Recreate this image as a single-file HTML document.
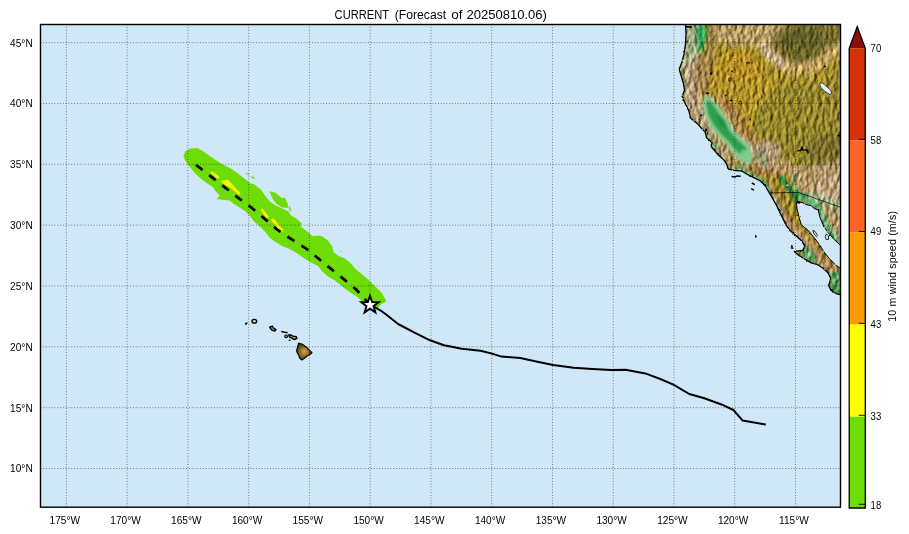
<!DOCTYPE html>
<html><head><meta charset="utf-8"><title>CURRENT forecast</title>
<style>
html,body{margin:0;padding:0;background:#fff;}
body{width:909px;height:534px;overflow:hidden;position:relative;font-family:"Liberation Sans",sans-serif;}
svg text{font-family:"Liberation Sans",sans-serif;fill:#000;}
svg g.t{opacity:0.999;}
</style></head><body>
<svg width="909" height="534" viewBox="0 0 909 534" style="display:block;position:absolute;left:0;top:0">
<defs>
<clipPath id="ax"><rect x="40.5" y="24.5" width="800" height="482.7"/></clipPath>
<clipPath id="landclip"><path d="M685.5 24.5 L686.0 34.0 L685.5 43.9 L684.1 53.7 L682.0 62.1 L679.2 69.2 L681.3 76.2 L683.4 83.2 L684.5 90.0 L682.0 97.0 L685.5 104.0 L689.0 111.1 L690.4 118.1 L697.5 123.7 L701.7 128.6 L705.2 132.1 L706.6 137.8 L712.2 142.7 L710.8 146.2 L715.7 151.8 L718.3 155.0 L723.2 159.2 L726.7 164.1 L728.1 169.0 L733.7 170.4 L742.1 171.2 L747.8 174.7 L754.8 178.2 L760.5 181.0 L765.4 186.0 L768.9 192.2 L772.5 198.2 L776.3 204.9 L779.5 211.6 L783.0 218.6 L786.2 225.4 L790.1 230.6 L795.7 235.5 L801.3 240.4 L804.9 246.1 L802.8 250.3 L794.3 251.4 L798.5 255.2 L804.2 258.7 L811.2 262.9 L816.8 264.3 L822.4 267.8 L828.0 272.8 L830.8 278.4 L828.7 285.4 L830.8 290.3 L836.5 293.8 L840.5 294.5 L840.5 268.5 L835.1 264.3 L829.4 258.7 L823.8 251.7 L819.6 244.7 L814.0 237.6 L808.4 230.6 L801.3 224.8 L799.2 217.6 L797.1 209.2 L796.4 202.1 L797.1 201.4 L802.8 202.8 L807.0 204.9 L811.2 205.6 L814.0 208.5 L818.2 209.9 L819.6 216.2 L821.7 221.8 L824.5 227.4 L828.0 232.5 L833.7 239.0 L840.5 245.4 L840.5 24.5Z"/></clipPath>
<filter id="blur3" x="-30%" y="-30%" width="160%" height="160%"><feGaussianBlur stdDeviation="2"/></filter>
<filter id="jag" x="-5%" y="-5%" width="110%" height="110%"><feTurbulence type="fractalNoise" baseFrequency="0.35" numOctaves="2" seed="4"/><feDisplacementMap in="SourceGraphic" scale="2.2" xChannelSelector="R" yChannelSelector="G"/></filter>
<filter id="blur1" x="-30%" y="-30%" width="160%" height="160%"><feGaussianBlur stdDeviation="1.1"/></filter>
<filter id="blur5" x="-30%" y="-30%" width="160%" height="160%"><feGaussianBlur stdDeviation="4"/></filter>
<filter id="relief" filterUnits="userSpaceOnUse" x="670" y="20" width="175" height="290" color-interpolation-filters="sRGB">
  <feTurbulence type="fractalNoise" baseFrequency="0.25 0.14" numOctaves="3" seed="11" result="n"/>
  <feDiffuseLighting in="n" surfaceScale="1.3" diffuseConstant="1" lighting-color="#ffffff" result="l"><feDistantLight azimuth="200" elevation="45"/></feDiffuseLighting>
  <feComposite in="SourceGraphic" in2="l" operator="arithmetic" k1="1.2" k2="0" k3="0.13" k4="-0.055"/>
</filter>
</defs>
<rect x="0" y="0" width="909" height="534" fill="#ffffff"/>
<rect x="40.5" y="24.5" width="800" height="482.7" fill="#cfe7f7"/>
<g clip-path="url(#ax)">
<g clip-path="url(#landclip)"><g filter="url(#relief)">
<rect x="670" y="20" width="180" height="290" fill="#b39a2a"/>
<g filter="url(#blur3)">
<ellipse cx="740" cy="95" rx="34" ry="34" fill="#c4a028" opacity="1" transform="rotate(0 740 95)"/>
<ellipse cx="800" cy="125" rx="46" ry="42" fill="#a3942c" opacity="1" transform="rotate(0 800 125)"/>
<ellipse cx="750" cy="34" rx="42" ry="13" fill="#cdb06c" opacity="1" transform="rotate(0 750 34)"/>
<ellipse cx="738" cy="66" rx="24" ry="16" fill="#cb9e24" opacity="1" transform="rotate(0 738 66)"/>
<ellipse cx="805" cy="46" rx="34" ry="24" fill="#7b722a" opacity="1" transform="rotate(0 805 46)"/>
<ellipse cx="802" cy="40" rx="22" ry="13" fill="#6e6a25" opacity="1" transform="rotate(0 802 40)"/>
<ellipse cx="836" cy="30" rx="10" ry="12" fill="#857828" opacity="1" transform="rotate(0 836 30)"/>
<path d="M764 44 Q770 60 790 68 Q812 72 826 58 Q834 48 844 48" fill="none" stroke="#dcb566" stroke-width="12" stroke-linecap="round"/>
<path d="M764 46 Q770 58 782 64" fill="none" stroke="#e6c8a4" stroke-width="7" stroke-linecap="round"/>
<ellipse cx="836" cy="100" rx="8" ry="30" fill="#a8902e" opacity="1" transform="rotate(0 836 100)"/>
<path d="M691.0 24.0 L691.0 50.0 L689.0 70.0 L691.0 90.0 L693.0 108.0 L699.0 120.0" fill="none" stroke="#d0b48c" stroke-width="16" stroke-linecap="round" stroke-linejoin="round" opacity="1"/>
<path d="M687.0 26.0 L686.5 50.0 L683.0 68.0 L685.0 95.0" fill="none" stroke="#a8c896" stroke-width="3.5" stroke-linecap="round" stroke-linejoin="round" opacity="0.8"/>
<polygon points="686.0,24.0 700.0,24.0 699.0,44.0 695.0,62.0 686.0,64.0" fill="#a5d3a0" opacity="0.45"/>
<polygon points="696.0,24.0 708.5,27.0 706.0,40.0 701.0,55.0 697.0,50.0 695.0,36.0" fill="#27b25f" opacity="1"/>
<path d="M712.0 24.0 L711.0 50.0 L708.0 75.0 L703.0 92.0" fill="none" stroke="#b38f48" stroke-width="8" stroke-linecap="round" stroke-linejoin="round" opacity="1"/>
<path d="M700.0 62.0 L698.0 86.0" fill="none" stroke="#b58f55" stroke-width="10" stroke-linecap="round" stroke-linejoin="round" opacity="1"/>
<path d="M722.0 98.0 L732.0 112.0 L742.0 128.0 L754.0 140.0 L760.0 156.0" fill="none" stroke="#c4944a" stroke-width="10" stroke-linecap="round" stroke-linejoin="round" opacity="1"/>
<path d="M727.0 100.0 L737.0 114.0 L748.0 130.0 L759.0 144.0" fill="none" stroke="#b07a30" stroke-width="4.5" stroke-linecap="round" stroke-linejoin="round" opacity="1"/>
<path d="M694.0 112.0 L702.0 124.0 L712.0 138.0 L720.0 150.0 L730.0 162.0" fill="none" stroke="#bda878" stroke-width="9" stroke-linecap="round" stroke-linejoin="round" opacity="1"/>
<path d="M700.0 126.0 L710.0 140.0 L722.0 156.0" fill="none" stroke="#a9ba86" stroke-width="3.5" stroke-linecap="round" stroke-linejoin="round" opacity="0.9"/>
<polygon points="704.0,95.0 712.0,98.0 721.0,108.0 728.0,118.0 735.0,130.0 742.0,137.0 751.0,144.0 754.0,153.0 752.0,165.0 741.0,163.0 733.0,155.0 726.0,146.0 717.0,136.0 710.0,128.0 704.0,118.0 701.0,106.0" fill="#dcc39a" opacity="1"/>
<ellipse cx="768" cy="150" rx="13" ry="9" fill="#c8aa82" opacity="1" transform="rotate(25 768 150)"/>
<ellipse cx="776" cy="166" rx="22" ry="7" fill="#cda86e" opacity="1" transform="rotate(10 776 166)"/>
<ellipse cx="762" cy="158" rx="6" ry="10" fill="#9fa37c" opacity="0.8" transform="rotate(-20 762 158)"/>
<path d="M732.0 166.0 L748.0 168.0 L764.0 172.0 L778.0 176.0" fill="none" stroke="#b5853f" stroke-width="6" stroke-linecap="round" stroke-linejoin="round" opacity="1"/>
<ellipse cx="828" cy="150" rx="22" ry="17" fill="#887a2a" opacity="1" transform="rotate(0 828 150)"/>
<polygon points="788.0,170.0 844.0,160.0 844.0,244.0 830.0,232.0 818.0,210.0 800.0,196.0" fill="#cba873" opacity="1"/>
<ellipse cx="828" cy="190" rx="14" ry="14" fill="#d9bd96" opacity="0.9" transform="rotate(0 828 190)"/>
<path d="M806.0 170.0 L822.0 182.0 L838.0 196.0" fill="none" stroke="#b79a5a" stroke-width="4" stroke-linecap="round" stroke-linejoin="round" opacity="0.8"/>
<path d="M800.0 196.0 L812.0 202.0 L820.0 209.0 L823.0 220.0 L828.0 230.0 L836.0 240.0" fill="none" stroke="#82c882" stroke-width="7" stroke-linecap="round" stroke-linejoin="round" opacity="1"/>
<path d="M808.0 196.0 L824.0 200.0 L840.0 207.0" fill="none" stroke="#a5d39c" stroke-width="6" stroke-linecap="round" stroke-linejoin="round" opacity="0.85"/>
<path d="M770.0 190.0 L778.0 204.0 L786.0 220.0 L798.0 236.0 L812.0 250.0 L826.0 264.0 L838.0 280.0" fill="none" stroke="#caa274" stroke-width="10" stroke-linecap="round" stroke-linejoin="round" opacity="1"/>
<path d="M776.0 192.0 L784.0 210.0 L792.0 224.0" fill="none" stroke="#a56f2c" stroke-width="3.5" stroke-linecap="round" stroke-linejoin="round" opacity="1"/>
<path d="M770.0 184.0 L776.0 196.0" fill="none" stroke="#b3823c" stroke-width="4" stroke-linecap="round" stroke-linejoin="round" opacity="1"/>
<path d="M812.0 246.0 L824.0 258.0 L834.0 268.0" fill="none" stroke="#b78652" stroke-width="4" stroke-linecap="round" stroke-linejoin="round" opacity="1"/>
</g>
<g filter="url(#blur1)">
<path d="M744.0 172.5 L750.0 174.5 L757.0 178.0 L763.0 182.5 L767.0 188.0 L770.0 193.0" fill="none" stroke="#6fbe78" stroke-width="4.5" stroke-linecap="round" stroke-linejoin="round" opacity="1"/>
<path d="M771.0 194.0 L776.0 203.0 L781.0 213.0" fill="none" stroke="#a9cf9a" stroke-width="3" stroke-linecap="round" stroke-linejoin="round" opacity="0.8"/>
<path d="M729.0 168.0 L740.0 170.0" fill="none" stroke="#9fcf95" stroke-width="3" stroke-linecap="round" stroke-linejoin="round" opacity="0.8"/>
<ellipse cx="741" cy="167" rx="5" ry="2.6" fill="#7cc47e" opacity="0.9" transform="rotate(0 741 167)"/>
<ellipse cx="715" cy="146" rx="3" ry="2" fill="#7cc47e" opacity="0.9" transform="rotate(0 715 146)"/>
<path d="M781.0 178.0 L788.0 187.0 L794.0 195.0 L797.0 201.0" fill="none" stroke="#2c8c3e" stroke-width="5.5" stroke-linecap="round" stroke-linejoin="round" opacity="1"/>
<path d="M793.0 176.0 L796.5 190.0" fill="none" stroke="#7fc07a" stroke-width="3.5" stroke-linecap="round" stroke-linejoin="round" opacity="0.85"/>
<path d="M798.0 193.0 L806.0 199.0" fill="none" stroke="#3d9a4c" stroke-width="5" stroke-linecap="round" stroke-linejoin="round" opacity="1"/>
<path d="M802.0 198.0 L812.0 203.0 L819.0 209.0 L822.0 219.0 L827.0 229.0 L835.0 240.0" fill="none" stroke="#6cc274" stroke-width="5" stroke-linecap="round" stroke-linejoin="round" opacity="1"/>
<polygon points="803.0,246.0 806.0,250.0 799.0,252.5 805.0,258.0 812.0,262.0 818.0,262.0 814.0,254.0 809.0,247.0" fill="#55b060" opacity="1"/>
<ellipse cx="808" cy="255" rx="3" ry="2" fill="#bfe3b5" opacity="0.8" transform="rotate(30 808 255)"/>
<polygon points="829.0,273.0 842.0,270.0 842.0,296.0 836.0,294.0 830.0,290.0 829.0,285.0 831.0,279.0" fill="#48aa52" opacity="1"/>
<ellipse cx="836" cy="280" rx="3" ry="4" fill="#a9d99f" opacity="0.7" transform="rotate(0 836 280)"/>
</g>
</g>
<g filter="url(#blur1)">
<polygon points="706.6,95.3 712.5,100.2 720.0,108.7 726.0,117.5 733.0,129.7 740.0,136.8 749.5,145.0 752.5,153.2 750.5,164.5 741.4,161.6 734.0,154.4 727.0,144.6 718.5,136.2 711.4,127.7 705.8,117.5 703.2,105.4 704.0,97.4" fill="#86ca90" opacity="1"/>
<polygon points="707.4,99.0 711.5,102.6 717.6,111.2 723.4,120.4 730.6,132.2 737.6,139.6 746.0,147.4 747.5,152.0 743.0,156.0 736.8,151.4 729.6,142.6 721.0,134.0 714.0,125.4 708.6,115.6 706.0,105.4" fill="#2fa04e" opacity="1"/>
<ellipse cx="746" cy="156" rx="4.5" ry="7" fill="#7fcc8c" opacity="0.9" transform="rotate(-30 746 156)"/>
<ellipse cx="722" cy="122" rx="3" ry="9" fill="#278f42" opacity="0.9" transform="rotate(-33 722 122)"/>
</g>
</g>
<polygon points="819.6,83.0 822.6,83.2 826.6,86.6 830.6,90.4 832.0,93.8 829.0,94.0 824.6,91.0 820.8,87.4" fill="#e3f0fb" stroke="#222" stroke-width="0.7"/>
<ellipse cx="711.2" cy="73.4" rx="1.1" ry="1.6" fill="#000"/>
<ellipse cx="748" cy="62.8" rx="2.5" ry="0.6" fill="#000"/>
<ellipse cx="731.9" cy="71.3" rx="0.8" ry="1.0" fill="#000"/>
<ellipse cx="707.3" cy="93.2" rx="1.7" ry="1.0" fill="#000"/>
<ellipse cx="725.6" cy="95.6" rx="0.8" ry="0.8" fill="#000"/>
<ellipse cx="731.2" cy="100.5" rx="1.3" ry="0.8" fill="#000"/>
<ellipse cx="701" cy="115.3" rx="1.1" ry="0.8" fill="#000"/>
<ellipse cx="750" cy="119.5" rx="0.6" ry="1.3" fill="#000"/>
<ellipse cx="706" cy="130" rx="1.0" ry="1.7" fill="#000"/>
<ellipse cx="707.5" cy="133.5" rx="0.8" ry="1.0" fill="#000"/>
<ellipse cx="729.8" cy="79.7" rx="1.3" ry="1.7" fill="none" stroke="#000" stroke-width="0.7"/>
<ellipse cx="740.3" cy="102.6" rx="1.5" ry="1.5" fill="none" stroke="#000" stroke-width="0.7"/>
<ellipse cx="734.7" cy="114.6" rx="0.9" ry="1.4" fill="#eef" stroke="#222" stroke-width="0.5"/>
<path d="M797.5 150.5 L800.5 150.8 L802 147 L803 150.5 L806 149.5 L808.5 153" fill="none" stroke="#000" stroke-width="1.3" stroke-linejoin="round"/>
<path d="M823 67.5 l2.2 -2.2 l1 1.6z" fill="#000"/>
<ellipse cx="798.6" cy="202.2" rx="1.8" ry="1.3" fill="#000"/>
<ellipse cx="787.3" cy="185.3" rx="1.1" ry="0.8" fill="#f4f4f4"/>
<path d="M837.5 135.5 l3 0.6" stroke="#000" stroke-width="1.2"/>
<g filter="url(#jag)">
<path d="M685.5 24.5 L686.0 34.0 L685.5 43.9 L684.1 53.7 L682.0 62.1 L679.2 69.2 L681.3 76.2 L683.4 83.2 L684.5 90.0 L682.0 97.0 L685.5 104.0 L689.0 111.1 L690.4 118.1 L697.5 123.7 L701.7 128.6 L705.2 132.1 L706.6 137.8 L712.2 142.7 L710.8 146.2 L715.7 151.8 L718.3 155.0 L723.2 159.2 L726.7 164.1 L728.1 169.0 L733.7 170.4 L742.1 171.2 L747.8 174.7 L754.8 178.2 L760.5 181.0 L765.4 186.0 L768.9 192.2 L772.5 198.2 L776.3 204.9 L779.5 211.6 L783.0 218.6 L786.2 225.4 L790.1 230.6 L795.7 235.5 L801.3 240.4 L804.9 246.1 L802.8 250.3 L794.3 251.4 L798.5 255.2 L804.2 258.7 L811.2 262.9 L816.8 264.3 L822.4 267.8 L828.0 272.8 L830.8 278.4 L828.7 285.4 L830.8 290.3 L836.5 293.8 L840.5 294.5" fill="none" stroke="#000" stroke-width="1.3" stroke-linejoin="round"/>
<path d="M840.5 268.5 L835.1 264.3 L829.4 258.7 L823.8 251.7 L819.6 244.7 L814.0 237.6 L808.4 230.6 L801.3 224.8 L799.2 217.6 L797.1 209.2 L796.4 202.1 L797.1 201.4 L802.8 202.8 L807.0 204.9 L811.2 205.6 L814.0 208.5 L818.2 209.9 L819.6 216.2 L821.7 221.8 L824.5 227.4 L828.0 232.5 L833.7 239.0 L840.5 245.4" fill="none" stroke="#000" stroke-width="1.0" stroke-linejoin="round"/>
</g>
<path d="M685.5 26.6 L692 27.2" stroke="#000" stroke-width="1.6"/>
<path d="M769 193 L798.5 192.4 L840.5 207.3" fill="none" stroke="#000" stroke-width="0.7"/>
<path d="M731.6 176.6 L735 176.9 L737 175.9 L740.7 176.3" fill="none" stroke="#000" stroke-width="1.5"/>
<path d="M751.8 183 L754.8 184.6" stroke="#000" stroke-width="1.5"/>
<path d="M751.2 188.6 L754 190.2" stroke="#000" stroke-width="1.5"/>
<ellipse cx="755.8" cy="236.3" rx="0.8" ry="1.6" fill="#000"/>
<path d="M791.8 245 L793.2 248.6 L791 248.2Z" fill="#7a8a6a" stroke="#000" stroke-width="0.8"/>
<path d="M812.8 230.4 L815 231.4 L817.6 235.6 L816.6 236.6 L814 234 Z" fill="#cfe7f7" stroke="#000" stroke-width="0.8"/>
<path d="M826.4 234 L828.6 236 L828.4 239.6 L826 239.4 L825.2 236.6 Z" fill="#cfe7f7" stroke="#000" stroke-width="0.8"/>
<ellipse cx="823.6" cy="297.5" rx="0" ry="0" fill="#000"/>
<ellipse cx="246.3" cy="323.5" rx="1.6" ry="0.9" fill="#000" transform="rotate(-35 246.2 323.6)"/>
<ellipse cx="254.3" cy="321.2" rx="2.4" ry="1.9" fill="#b9c6c0" stroke="#000" stroke-width="1.3"/>
<path d="M269.6 327.2 L272.4 326.2 L273.6 328 L276 329.6 L274.6 331.2 L271.6 330 Z" fill="#7f8f72" stroke="#000" stroke-width="1.3" stroke-linejoin="round"/>
<path d="M281.4 331.6 L284.4 332.2 L287.6 332.8" fill="none" stroke="#000" stroke-width="1.5"/>
<ellipse cx="286.1" cy="336.3" rx="1.4" ry="1.3" fill="#aebcb8" stroke="#000" stroke-width="1.1"/>
<path d="M288.6 334.8 L291.2 335 L292.8 336.2 L296.2 336.6 L297 338.4 L294.4 339.6 L291.8 338.2 L289.4 337 Z" fill="#86957a" stroke="#000" stroke-width="1.3" stroke-linejoin="round"/>
<ellipse cx="289.7" cy="340.2" rx="1.2" ry="0.6" fill="#000"/>
<radialGradient id="bigisl" cx="0.5" cy="0.5" r="0.6"><stop offset="0" stop-color="#d8a545"/><stop offset="0.35" stop-color="#a57b2c"/><stop offset="0.8" stop-color="#4b3d1b"/><stop offset="1" stop-color="#2d2612"/></radialGradient>
<path d="M298.5 343.1 L302.4 344.3 L306.9 347.6 L309.6 350.4 L312 352.7 L309.4 354.8 L306.9 356 L304.4 358.4 L301.9 360 L299.8 358.4 L298.6 355 L297 352.4 L296.6 350.4 L297.9 346 Z" fill="url(#bigisl)" stroke="#000" stroke-width="1.1" stroke-linejoin="round"/>
<polygon points="183.4,155.4 185.5,151.2 190.4,148.4 197.5,148.1 203.1,151.2 210.1,156.2 217.1,161.1 222.8,164.6 231.2,168.8 238.2,173.7 245.2,179.3 250.8,183.5 254.0,184.2 261.1,189.8 266.0,196.9 270.2,201.8 276.5,206.0 282.8,208.8 288.5,211.6 290.6,215.1 296.2,218.6 301.8,223.5 300.4,226.3 306.0,230.6 313.0,236.2 318.7,235.5 322.3,236.4 327.9,240.6 332.1,246.2 333.5,251.9 338.5,256.1 344.8,258.2 350.4,263.1 356.0,269.4 363.0,275.0 368.7,280.0 375.7,287.0 381.3,292.6 385.5,298.9 386.2,301.7 381.3,303.8 378.0,308.0 368.0,308.0 363.0,302.4 360.2,299.6 356.0,296.1 350.4,292.6 344.8,288.4 340.6,284.9 334.9,280.6 327.9,276.4 322.3,271.5 318.1,265.9 311.1,262.4 304.0,258.2 297.0,253.3 289.2,248.8 282.1,246.0 275.1,241.8 269.5,237.6 265.3,232.0 259.7,226.3 254.0,221.4 249.8,215.8 245.6,211.6 239.6,207.4 234.0,203.9 229.8,200.4 224.2,200.1 216.4,199.0 219.9,195.5 215.7,191.3 212.9,187.0 207.3,183.5 201.7,179.3 196.1,174.4 191.9,169.5 188.3,165.3 184.8,159.7 183.4,155.4" fill="#6edc05"/>
<polygon points="269.5,191.2 275.1,192.6 282.1,198.3 284.9,197.6 287.8,203.9 287.8,208.1 282.1,207.4 276.5,203.9 272.3,198.3" fill="#6edc05"/>
<polygon points="288.5,206.7 289.5,205.5 291.0,210.2 290.0,212.0" fill="#6edc05"/>
<polygon points="245.5,173.0 248.5,173.4 250.0,174.8 247.0,174.6" fill="#6edc05"/>
<polygon points="250.5,176.2 254.0,177.0 255.2,178.6 252.0,178.2" fill="#6edc05"/>
<polygon points="340.5,250.8 341.6,251.0 341.4,252.0 340.4,251.8" fill="#6edc05"/>
<polygon points="210.4,172.6 212.4,171.2 219.4,176.8 217.8,179.0" fill="#fbf400"/>
<polygon points="221.0,180.9 227.9,179.6 233.0,185.0 240.0,192.5 239.2,195.2 231.2,188.4 223.5,184.0" fill="#fbf400"/>
<polygon points="260.4,209.8 262.6,208.4 269.0,217.0 266.6,218.4" fill="#fbf400"/>
<polygon points="270.6,219.6 273.4,218.2 283.6,230.2 281.0,232.2" fill="#fbf400"/>
<path d="M66.38 24.5V507.2M127.14 24.5V507.2M187.90 24.5V507.2M248.66 24.5V507.2M309.42 24.5V507.2M370.18 24.5V507.2M430.94 24.5V507.2M491.70 24.5V507.2M552.46 24.5V507.2M613.22 24.5V507.2M673.98 24.5V507.2M734.74 24.5V507.2M795.50 24.5V507.2M40.5 468.50H840.5M40.5 407.66H840.5M40.5 346.82H840.5M40.5 285.98H840.5M40.5 225.14H840.5M40.5 164.30H840.5M40.5 103.46H840.5M40.5 42.62H840.5" fill="none" stroke="#000" stroke-opacity="0.72" stroke-width="0.7" stroke-dasharray="0.9 1.9"/>
<path d="M370.0 304.7 L380.3 310.3 L386.8 315.0 L398.1 324.0 L415.0 332.8 L430.0 340.3 L444.0 345.3 L461.8 348.7 L480.5 350.8 L491.2 353.4 L501.5 356.6 L520.3 358.1 L536.2 361.5 L553.1 365.0 L573.7 367.8 L592.4 369.0 L611.1 370.1 L625.6 369.8 L645.3 373.4 L660.3 379.0 L673.4 384.7 L689.3 394.0 L704.3 398.3 L722.1 404.7 L733.4 410.0 L742.7 420.6 L765.8 424.6" fill="none" stroke="#000" stroke-width="2" stroke-linejoin="round" stroke-linecap="butt"/>
<path d="M196.0 165.0 L198.9 167.2 L212.1 177.4 L224.9 187.4 L237.9 197.6 L251.5 207.7 L264.2 218.4 L276.8 229.3 L290.6 238.7 L305.0 247.8 L317.8 258.0 L330.7 268.6 L343.5 278.9 L356.2 289.5 L370.0 304.7" fill="none" stroke="#000" stroke-width="2.7" stroke-dasharray="8.3 8.3" stroke-linejoin="round"/>
<polygon points="370.0,296.0 372.2,302.0 378.6,302.2 373.5,306.1 375.3,312.3 370.0,308.7 364.7,312.3 366.5,306.1 361.4,302.2 367.8,302.0" fill="#fff" stroke="#000" stroke-width="2" stroke-linejoin="miter"/>
</g>
<rect x="40.5" y="24.5" width="800" height="482.7" fill="none" stroke="#000" stroke-width="1.4"/>
<g class="t">
<rect x="849.2" y="416.4" width="16.1" height="91.6" fill="#6edc05"/>
<rect x="849.2" y="324.3" width="16.1" height="92.1" fill="#ffff00"/>
<rect x="849.2" y="232.3" width="16.1" height="92.0" fill="#ff9a00"/>
<rect x="849.2" y="140.3" width="16.1" height="92.0" fill="#ff6424"/>
<rect x="849.2" y="48.3" width="16.1" height="92.0" fill="#d63205"/>
<polygon points="849.2,48.3 857.25,26.6 865.3,48.3" fill="#8e0b0b"/>
<path d="M849.2 508 V48.3 L857.25 26.6 L865.3 48.3 V508 Z" fill="none" stroke="#000" stroke-width="1.3" stroke-linejoin="miter"/>
<path d="M858.8 504.3H865" stroke="#000" stroke-width="0.9"/>
<text x="870.6" y="508.6" font-size="10" textLength="10.6" lengthAdjust="spacingAndGlyphs">18</text>
<path d="M858.8 415.3H865" stroke="#000" stroke-width="0.9"/>
<text x="870.6" y="419.6" font-size="10" textLength="10.6" lengthAdjust="spacingAndGlyphs">33</text>
<path d="M858.8 323.3H865" stroke="#000" stroke-width="0.9"/>
<text x="870.6" y="327.6" font-size="10" textLength="10.6" lengthAdjust="spacingAndGlyphs">43</text>
<path d="M858.8 231.4H865" stroke="#000" stroke-width="0.9"/>
<text x="870.6" y="235.4" font-size="10" textLength="10.6" lengthAdjust="spacingAndGlyphs">49</text>
<path d="M858.8 139.3H865" stroke="#000" stroke-width="0.9"/>
<text x="870.6" y="143.6" font-size="10" textLength="10.6" lengthAdjust="spacingAndGlyphs">58</text>
<text x="870.6" y="51.6" font-size="10" textLength="10.6" lengthAdjust="spacingAndGlyphs">70</text>
<text transform="translate(895.6 266.4) rotate(-90)" text-anchor="middle" font-size="10.6" textLength="110.7" lengthAdjust="spacing">10 m wind speed (m/s)</text>
<text x="334.6" y="18.9" font-size="12.3" textLength="54.5" lengthAdjust="spacingAndGlyphs">CURRENT</text>
<text x="394.8" y="18.9" font-size="12.3" textLength="51.3" lengthAdjust="spacingAndGlyphs">(Forecast</text>
<text x="451.2" y="18.9" font-size="12.3" textLength="11.3" lengthAdjust="spacingAndGlyphs">of</text>
<text x="466.5" y="18.9" font-size="12.3" textLength="80.4" lengthAdjust="spacingAndGlyphs">20250810.06)</text>
<text x="64.8" y="523.7" text-anchor="middle" font-size="10.1">175°W</text>
<text x="125.5" y="523.7" text-anchor="middle" font-size="10.1">170°W</text>
<text x="186.3" y="523.7" text-anchor="middle" font-size="10.1">165°W</text>
<text x="247.1" y="523.7" text-anchor="middle" font-size="10.1">160°W</text>
<text x="307.8" y="523.7" text-anchor="middle" font-size="10.1">155°W</text>
<text x="368.6" y="523.7" text-anchor="middle" font-size="10.1">150°W</text>
<text x="429.3" y="523.7" text-anchor="middle" font-size="10.1">145°W</text>
<text x="490.1" y="523.7" text-anchor="middle" font-size="10.1">140°W</text>
<text x="550.9" y="523.7" text-anchor="middle" font-size="10.1">135°W</text>
<text x="611.6" y="523.7" text-anchor="middle" font-size="10.1">130°W</text>
<text x="672.4" y="523.7" text-anchor="middle" font-size="10.1">125°W</text>
<text x="733.1" y="523.7" text-anchor="middle" font-size="10.1">120°W</text>
<text x="793.9" y="523.7" text-anchor="middle" font-size="10.1">115°W</text>
<text x="10.1" y="472.4" font-size="10.1" textLength="22.6" lengthAdjust="spacing">10°N</text>
<text x="10.1" y="411.6" font-size="10.1" textLength="22.6" lengthAdjust="spacing">15°N</text>
<text x="10.1" y="350.7" font-size="10.1" textLength="22.6" lengthAdjust="spacing">20°N</text>
<text x="10.1" y="289.9" font-size="10.1" textLength="22.6" lengthAdjust="spacing">25°N</text>
<text x="10.1" y="229.0" font-size="10.1" textLength="22.6" lengthAdjust="spacing">30°N</text>
<text x="10.1" y="168.2" font-size="10.1" textLength="22.6" lengthAdjust="spacing">35°N</text>
<text x="10.1" y="107.4" font-size="10.1" textLength="22.6" lengthAdjust="spacing">40°N</text>
<text x="10.1" y="46.5" font-size="10.1" textLength="22.6" lengthAdjust="spacing">45°N</text>
</g>
</svg>
</body></html>
